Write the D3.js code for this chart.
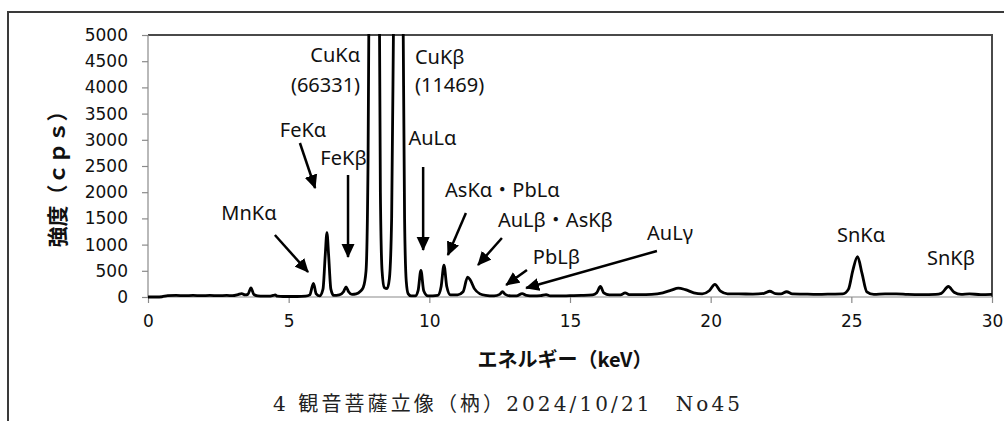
<!DOCTYPE html>
<html>
<head>
<meta charset="utf-8">
<script src="https://cdn.jsdelivr.net/npm/d3@7"></script>
<style>
  html, body { margin: 0; padding: 0; background: #fff; }
  svg { display: block; }
</style>
</head>
<body>
<svg id="chart" width="1004" height="421"></svg>
<script>
// ---- data ----
const energyKeV = [
  0.0, 0.3, 0.5, 0.7, 1.0, 1.3, 1.6, 1.9, 2.2, 2.5, 2.8, 3.0, 3.2, 3.33, 3.45, 3.55, 3.66, 3.76, 3.9,
  4.1, 4.3, 4.45, 4.52, 4.6, 4.8, 5.0, 5.3, 5.6, 5.75, 5.88, 5.98, 6.1, 6.22, 6.3, 6.36, 6.42, 6.5,
  6.6, 6.8, 6.95, 7.04, 7.13, 7.25, 7.4, 7.55, 7.65, 7.75, 7.82, 7.88, 8.04, 8.2, 8.26, 8.32, 8.4,
  8.5, 8.58, 8.66, 8.74, 8.9, 9.06, 9.12, 9.18, 9.25, 9.35, 9.5, 9.6, 9.7, 9.8, 9.95, 10.3, 10.42,
  10.52, 10.62, 10.75, 11.0, 11.2, 11.36, 11.45, 11.6, 11.8, 12.0, 12.3, 12.5, 12.6, 12.7, 12.9,
  13.1, 13.3, 13.45, 13.7, 13.95, 14.15, 14.3, 14.6, 15.0, 15.4, 15.8, 15.95, 16.08, 16.2, 16.4,
  16.8, 16.96, 17.1, 17.5, 17.9, 18.3, 18.6, 18.85, 19.1, 19.4, 19.7, 19.95, 20.15, 20.35, 20.6,
  21.0, 21.5, 21.9, 22.1, 22.3, 22.5, 22.7, 22.9, 23.3, 23.8, 24.3, 24.7, 24.9, 25.05, 25.22,
  25.38, 25.55, 25.8, 26.2, 26.6, 27.0, 27.5, 28.0, 28.2, 28.45, 28.65, 28.9, 29.2, 29.6, 30.0
];
const intensityCps = [
  0, 0, 5, 25, 30, 25, 30, 25, 30, 25, 30, 25, 45, 65, 40, 50, 175, 50, 20,
  15, 15, 30, 40, 15, 10, 10, 10, 15, 40, 260, 60, 20, 150, 800, 1230, 800, 150,
  30, 40, 100, 195, 100, 50, 60, 110, 180, 500, 2500, 8000, 66331, 8000, 2000, 500, 180,
  160, 350, 1500, 6000, 11469, 6000, 1500, 300, 60, 20, 20, 120, 510, 120, 20, 30, 200,
  610, 200, 40, 40, 100, 380, 330, 160, 60, 30, 20, 50, 100, 50, 20,
  20, 65, 30, 20, 25, 45, 20, 20, 25, 30, 40, 80, 200, 80, 40,
  40, 80, 45, 45, 50, 80, 130, 170, 140, 80, 60, 120, 240, 110, 60,
  60, 55, 70, 110, 65, 60, 100, 60, 55, 50, 55, 60, 150, 500, 770,
  450, 100, 50, 60, 60, 50, 45, 50, 70, 200, 90, 50, 60, 45, 50
];
const xTickValues = [0, 5, 10, 15, 20, 25, 30];
const yTickValues = [0, 500, 1000, 1500, 2000, 2500, 3000, 3500, 4000, 4500, 5000];

// peak labels: [text, keV, cps, anchor]
const labelTexts   = ["CuKα", "(66331)", "CuKβ", "(11469)", "FeKα", "FeKβ", "MnKα", "AuLα",
                      "AsKα・PbLα", "AuLβ・AsKβ", "PbLβ", "AuLγ", "SnKα", "SnKβ"];
const labelKeV     = [7.54, 7.54, 9.49, 9.49, 5.51, 6.95, 3.59, 10.11, 10.56, 12.44, 13.68, 17.74, 24.49, 27.69];
const labelCps     = [4618, 4046, 4580, 4046, 3187, 2653, 1603, 3034, 2042, 1469, 763, 1221, 1183, 744];
const labelAnchors = ["end", "end", "start", "start", "middle", "middle", "middle", "middle",
                      "start", "start", "start", "start", "start", "start"];

// arrows: from (keV, cps) to (keV, cps)
const arrowFromKeV = [5.40, 7.11, 4.51, 9.78, 11.30, 12.58, 13.47, 18.09];
const arrowFromCps = [2939, 2328, 1183, 2481, 1603, 1126, 515, 878];
const arrowToKeV   = [5.94, 7.11, 5.69, 9.78, 10.66, 11.73, 12.73, 13.44];
const arrowToCps   = [2080, 763, 477, 897, 802, 611, 229, 172];

const xTitle = "エネルギー（keV）";
const yTitle = "強度（ｃｐｓ）";
const caption = "4 観音菩薩立像（枘）2024/10/21　No45";

// ---- layout ----
const plot = { left: 148, right: 992, top: 35, bottom: 297 };
const svg = d3.select("#chart");

const x = d3.scaleLinear().domain([0, 30]).range([plot.left, plot.right]);
const y = d3.scaleLinear().domain([0, 5000]).range([plot.bottom, plot.top]);

// outer frame (extends past the window on right and bottom)
svg.append("rect")
  .attr("x", 8).attr("y", 12).attr("width", 1010).attr("height", 430)
  .attr("fill", "none").attr("stroke", "#3a3a3a").attr("stroke-width", 2);

// plot border top + right
svg.append("path")
  .attr("d", `M${plot.left},${plot.top}H${plot.right}V${plot.bottom}`)
  .attr("fill", "none").attr("stroke", "#4a4a4a").attr("stroke-width", 2);

// axes
const tickFont = "'DejaVu Sans', sans-serif";
const yAxis = svg.append("g")
  .attr("transform", `translate(${plot.left},0)`)
  .call(d3.axisLeft(y).tickValues(yTickValues).tickSize(6).tickPadding(14).tickFormat(d3.format("d")));
const xAxis = svg.append("g")
  .attr("transform", `translate(0,${plot.bottom})`)
  .call(d3.axisBottom(x).tickValues(xTickValues).tickSize(6).tickPadding(12).tickFormat(d3.format("d")));
[xAxis, yAxis].forEach(g => {
  g.select(".domain").attr("stroke", "#8a8a8a").attr("stroke-width", 1.2);
  g.selectAll(".tick line").attr("stroke", "#8a8a8a").attr("stroke-width", 1.2);
  g.selectAll(".tick text").attr("font-family", tickFont).attr("font-size", 17).attr("fill", "#111");
});
yAxis.select(".domain").attr("d", `M0,${plot.bottom}V${plot.top}`);
xAxis.select(".domain").attr("d", `M${plot.left},0H${plot.right}`);

// clip
svg.append("clipPath").attr("id", "clip")
  .append("rect").attr("x", plot.left).attr("y", plot.top - 1)
  .attr("width", plot.right - plot.left).attr("height", plot.bottom - plot.top + 3);

// spectrum
const pts = energyKeV.map((e, i) => [e, intensityCps[i]]);
const line = d3.line().x(d => x(d[0])).y(d => y(d[1])).curve(d3.curveMonotoneX);
svg.append("path")
  .attr("clip-path", "url(#clip)")
  .attr("d", line(pts))
  .attr("fill", "none").attr("stroke", "#000").attr("stroke-width", 2.8)
  .attr("stroke-linejoin", "round");

// arrow marker
const defs = svg.append("defs");
defs.append("marker")
  .attr("id", "arrow").attr("markerUnits", "userSpaceOnUse")
  .attr("viewBox", "0 -7 14 14").attr("refX", 13).attr("refY", 0)
  .attr("markerWidth", 14).attr("markerHeight", 14).attr("orient", "auto")
  .append("path").attr("d", "M0,-6.5L14,0L0,6.5Z").attr("fill", "#000");

arrowFromKeV.forEach((k, i) => {
  svg.append("line")
    .attr("x1", x(k)).attr("y1", y(arrowFromCps[i]))
    .attr("x2", x(arrowToKeV[i])).attr("y2", y(arrowToCps[i]))
    .attr("stroke", "#000").attr("stroke-width", 2.5)
    .attr("marker-end", "url(#arrow)");
});

// labels
labelTexts.forEach((t, i) => {
  svg.append("text")
    .attr("x", x(labelKeV[i])).attr("y", y(labelCps[i]))
    .attr("dy", "0.36em")
    .attr("text-anchor", labelAnchors[i])
    .attr("font-family", "'Noto Sans', 'Noto Sans CJK JP', sans-serif")
    .attr("font-size", 20).attr("fill", "#111")
    .text(t);
});

// axis titles
svg.append("text")
  .attr("x", 565).attr("y", 360).attr("dy", "0.36em")
  .attr("text-anchor", "middle")
  .attr("font-family", "'Noto Sans CJK JP', sans-serif")
  .attr("font-weight", "bold").attr("font-size", 20).attr("fill", "#111")
  .text(xTitle);

svg.append("text")
  .attr("transform", "translate(57,174) rotate(-90)")
  .attr("dy", "0.36em")
  .attr("text-anchor", "middle")
  .attr("font-family", "'Noto Sans CJK JP', sans-serif")
  .attr("font-weight", "bold").attr("font-size", 21).attr("fill", "#111")
  .text(yTitle);

// caption
svg.append("text")
  .attr("x", 273).attr("y", 404).attr("dy", "0.36em")
  .attr("text-anchor", "start")
  .attr("font-family", "'DejaVu Serif', 'Noto Sans CJK JP', serif")
  .attr("font-size", 20).attr("fill", "#222")
  .attr("textLength", 467).attr("lengthAdjust", "spacing")
  .text(caption);
</script>
</body>
</html>
